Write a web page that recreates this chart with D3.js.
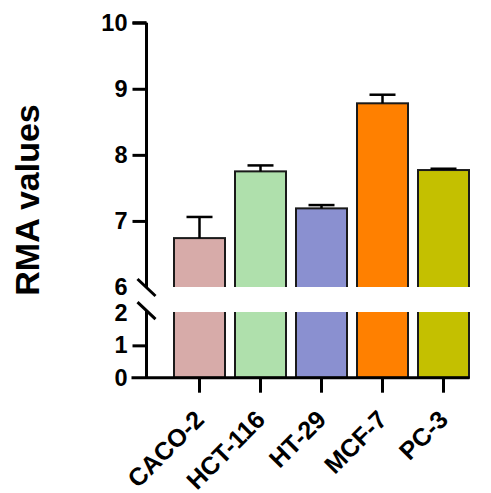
<!DOCTYPE html>
<html>
<head>
<meta charset="utf-8">
<script src="https://cdn.jsdelivr.net/npm/d3@7"></script>
<style>
  body { margin: 0; background: #fff; }
  text { font-family: "Liberation Sans", Arial, sans-serif; font-weight: bold; }
</style>
</head>
<body>
<svg id="chart" width="491" height="493"></svg>
<script>
var cells = ["CACO-2", "HCT-116", "HT-29", "MCF-7", "PC-3"];
var means = [6.74, 7.75, 7.19, 8.78, 7.77];
var errs = [0.32, 0.09, 0.05, 0.13, 0.02];
var colors = ["#d7aba9", "#afe0ac", "#8a90d0", "#ff8000", "#c4c000"];
var upperTicks = [6, 7, 8, 9, 10];
var lowerTicks = [0, 1, 2];

var svg = d3.select("#chart");
var axisX = 146.5;

var x = d3.scaleBand().domain(cells).range([174, 469]).paddingInner(0.164).paddingOuter(0);
// broken y axis: two segments
var yTop = d3.scaleLinear().domain([6, 10]).range([287, 22.7]);
var yBot = d3.scaleLinear().domain([0, 2]).range([377.7, 313]);

var data = cells.map(function(c, i){ return {c: c, m: means[i], e: errs[i], col: colors[i]}; });

// lower bar segments
svg.selectAll("rect.lo").data(data).enter().append("rect")
    .attr("class", "lo")
    .attr("x", function(d){ return x(d.c); })
    .attr("y", yBot(2))
    .attr("width", x.bandwidth())
    .attr("height", yBot(0) - yBot(2))
    .attr("fill", function(d){ return d.col; })
    .attr("stroke", "#1a1a1a")
    .attr("stroke-width", 2);

// upper bar segments
svg.selectAll("rect.hi").data(data).enter().append("rect")
    .attr("class", "hi")
    .attr("x", function(d){ return x(d.c); })
    .attr("y", function(d){ return yTop(d.m); })
    .attr("width", x.bandwidth())
    .attr("height", function(d){ return yTop(6) - 1 - yTop(d.m); })
    .attr("fill", function(d){ return d.col; })
    .attr("stroke", "#1a1a1a")
    .attr("stroke-width", 2);

// cover top/bottom strokes at the break
svg.selectAll("rect.gapfix").data(data).enter().append("rect")
    .attr("x", function(d){ return x(d.c) + 1; })
    .attr("y", yTop(6) - 2.5)
    .attr("width", x.bandwidth() - 2)
    .attr("height", 2.5)
    .attr("fill", function(d){ return d.col; });
svg.selectAll("rect.gapfix2").data(data).enter().append("rect")
    .attr("x", function(d){ return x(d.c) + 1; })
    .attr("y", yBot(2) - 1)
    .attr("width", x.bandwidth() - 2)
    .attr("height", 2.5)
    .attr("fill", function(d){ return d.col; });

// error bars (upper half only)
var eb = svg.selectAll("g.err").data(data).enter().append("g")
    .attr("stroke", "#000").attr("stroke-width", 2.5);
eb.append("line")
    .attr("x1", function(d){ return x(d.c) + x.bandwidth() / 2; })
    .attr("x2", function(d){ return x(d.c) + x.bandwidth() / 2; })
    .attr("y1", function(d){ return yTop(d.m); })
    .attr("y2", function(d){ return yTop(d.m + d.e); });
eb.append("line")
    .attr("x1", function(d){ return x(d.c) + x.bandwidth() / 2 - 13; })
    .attr("x2", function(d){ return x(d.c) + x.bandwidth() / 2 + 13; })
    .attr("y1", function(d){ return yTop(d.m + d.e); })
    .attr("y2", function(d){ return yTop(d.m + d.e); });

// y axis upper segment
var gTop = svg.append("g").attr("transform", "translate(" + axisX + ",0)")
    .call(d3.axisLeft(yTop).tickValues(upperTicks).tickSize(14).tickPadding(5).tickFormat(d3.format("d")));
gTop.select(".domain").attr("d", "M0," + yTop(10) + "V" + (yTop(6) + 0.5) + "M-14," + yTop(10) + "H0");
gTop.selectAll(".tick").filter(function(d){ return d === 6; }).select("line").remove();

// y axis lower segment
var gBot = svg.append("g").attr("transform", "translate(" + axisX + ",0)")
    .call(d3.axisLeft(yBot).tickValues(lowerTicks).tickSize(14).tickPadding(5).tickFormat(d3.format("d")));
gBot.select(".domain").attr("d", "M0," + 310.7 + "V" + yBot(0));
gBot.selectAll(".tick").filter(function(d){ return d === 2 || d === 0; }).select("line").remove();

[gTop, gBot].forEach(function(g){
    g.selectAll(".domain, .tick line").attr("stroke", "#000").attr("stroke-width", 3);
    g.selectAll(".tick text").attr("font-size", 23.5).attr("fill", "#000");
});

// break marks
var brk = [yTop(6) + 0.5, 310.7];
svg.selectAll("line.brk").data(brk).enter().append("line")
    .attr("x1", axisX - 9).attr("x2", axisX + 9)
    .attr("y1", function(d){ return d - 8.5; })
    .attr("y2", function(d){ return d + 8.5; })
    .attr("stroke", "#000").attr("stroke-width", 3);

// x axis
var gx = svg.append("g").attr("transform", "translate(0," + yBot(0) + ")")
    .call(d3.axisBottom(x).tickSize(15).tickFormat(""));
gx.select(".domain").attr("d", "M131.5,0H469.5");
gx.selectAll(".domain, .tick line").attr("stroke", "#000").attr("stroke-width", 3);

svg.selectAll("text.xl").data(cells).enter().append("text")
    .attr("class", "xl")
    .attr("transform", function(d){ return "translate(" + (x(d) + x.bandwidth() / 2) + ",415) rotate(-45)"; })
    .attr("text-anchor", "end")
    .attr("dy", "0.35em")
    .attr("font-size", 25)
    .text(function(d){ return d; });

// y title
svg.append("text")
    .attr("transform", "translate(27,200) rotate(-90)")
    .attr("text-anchor", "middle")
    .attr("dy", "0.35em")
    .attr("font-size", 34)
    .text("RMA values");
</script>
</body>
</html>
